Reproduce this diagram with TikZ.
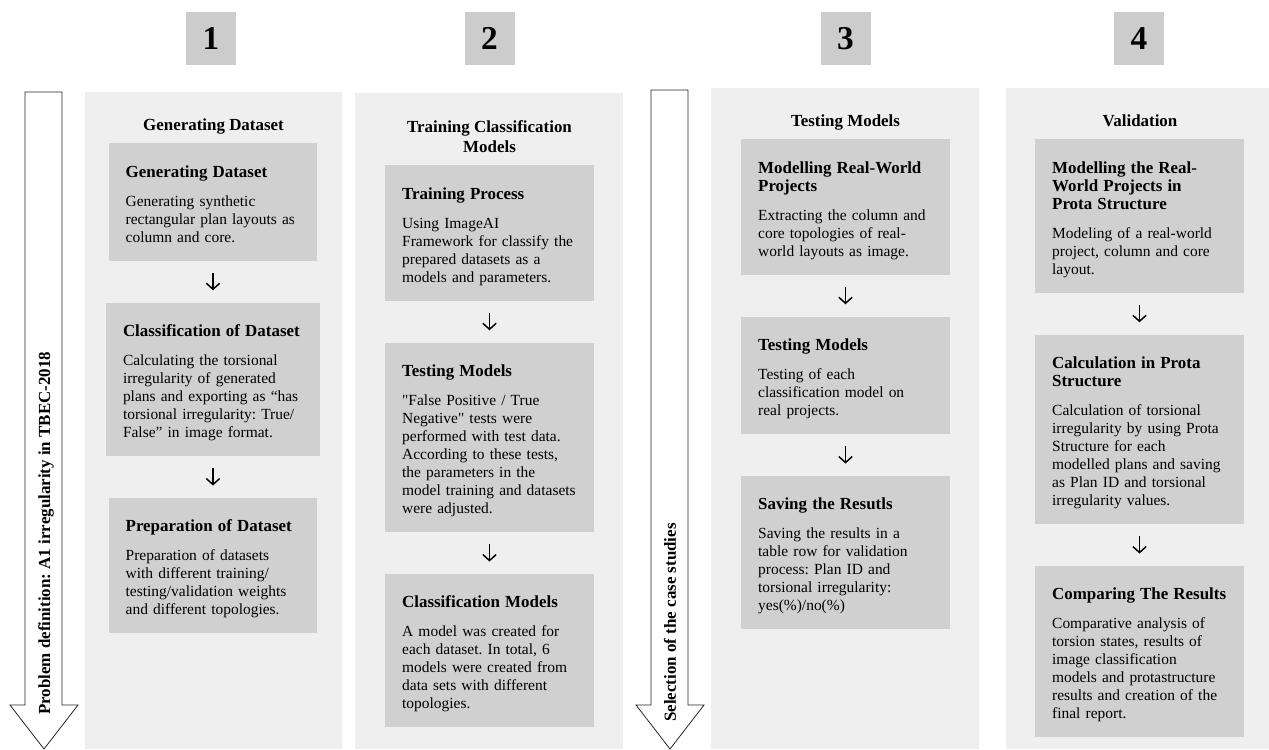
\documentclass[tikz,border=0pt]{standalone}
\usepackage{fontspec}
\setmainfont{Liberation Serif}[Ligatures=TeXOff]
\usepackage{tikz}
\usetikzlibrary{positioning, arrows.meta}
\definecolor{panel}{RGB}{239,239,239}
\definecolor{stepfill}{RGB}{208,208,208}
\definecolor{numfill}{RGB}{204,204,204}
\setlength{\parindent}{0pt}
\frenchspacing
\newcommand{\steptitlefont}{\fontsize{12.7pt}{13.5pt}\selectfont\bfseries}
\newcommand{\stepbody}[2]{\rule{0pt}{17.3pt}{\steptitlefont #1}\par\vspace{8.25pt}#2\rule[-5.9pt]{0pt}{5.9pt}}

\begin{document}
\begin{tikzpicture}[x=0.75pt, y=-0.75pt, node distance=31.1pt,
    stepbox/.style={fill=stepfill, text width=131pt, inner xsep=12.75pt, inner ysep=8pt,
        align=left, font=\fontsize{11.6pt}{13.5pt}\selectfont},
    coltitle/.style={font=\fontsize{12.7pt}{15pt}\selectfont\bfseries, align=center, inner sep=0pt},
    numbox/.style={fill=numfill, minimum width=37.5pt, minimum height=39.75pt, inner sep=0pt,
        font=\fontsize{25pt}{30pt}\selectfont\bfseries},
    flow/.style={-{Straight Barb[length=4.5pt,width=10pt]}, line width=1.1pt,
        shorten <=9pt, shorten >=9pt},
    bigarrow/.style={fill=white, draw=black!85, line width=0.6pt},
    sidelabel/.style={rotate=90, anchor=west, inner sep=0pt,
        font=\fontsize{12.7pt}{15pt}\selectfont\bfseries}]
    \useasboundingbox (0,0) rectangle (1269,749);

    % Paneles de fondo
    \fill[panel] (85,92) rectangle (342,749);
    \fill[panel] (355,93) rectangle (623,749);
    \fill[panel] (711,88) rectangle (979,749);
    \fill[panel] (1006,88) rectangle (1269,749);

    % Numeros de etapa
    \node[numbox] (n1) at (211,38.5) {1};
    \node[numbox] (n2) at (489.5,38.5) {2};
    \node[numbox] (n3) at (845.5,38.5) {3};
    \node[numbox] (n4) at (1139,38.5) {4};

    % Flechas laterales
    \draw[bigarrow] (25,92) -- (62,92) -- (62,705) -- (78,705) -- (44,749) -- (10,705) -- (25,705) -- cycle;
    \node[sidelabel] (prob) at (46,715) {Problem definition: A1 irregularity in TBEC-2018};
    \draw[bigarrow] (651,90) -- (688,90) -- (688,705) -- (704,705) -- (670,749) -- (636,705) -- (651,705) -- cycle;
    \node[sidelabel] (sel) at (670,722) {Selection of the case studies};

    % Columna 1
    \node[coltitle, anchor=base] (h1) at (213.5,130.7) {Generating Dataset};
    \node[stepbox, anchor=north] (gendata) at (213,143) {\stepbody{Generating Dataset}{Generating synthetic\\
        rectangular plan layouts as\\ column and core.}};
    \node[stepbox, text width=135pt, below=of gendata] (classif) {\stepbody{Classification of Dataset}{Calculating the torsional\\
        irregularity of generated\\ plans and exporting as “has\\ torsional irregularity: True/\\ False” in image format.}};
    \node[stepbox, below=of classif] (prep) {\stepbody{Preparation of Dataset}{Preparation of datasets\\
        with different training/\\ testing/validation weights\\ and different topologies.}};
    \draw[flow] (gendata) -- (classif);
    \draw[flow] (classif) -- (prep);

    % Columna 2
    \node[coltitle, anchor=north] (h2) at (489.5,120) {Training Classification\\Models};
    \node[stepbox, anchor=north] (train) at (489.5,165) {\stepbody{Training Process}{Using ImageAI\\
        Framework for classify the\\ prepared datasets as a\\ models and parameters.}};
    \node[stepbox, below=of train] (testa) {\stepbody{Testing Models}{"False Positive / True\\
        Negative" tests were\\ performed with test data.\\ According to these tests,\\
        the parameters in the\\ model training and datasets\\ were adjusted.}};
    \node[stepbox, below=of testa] (models) {\stepbody{Classification Models}{A model was created for\\
        each dataset. In total, 6\\ models were created from\\ data sets with different\\ topologies.}};
    \draw[flow] (train) -- (testa);
    \draw[flow] (testa) -- (models);

    % Columna 3
    \node[coltitle, anchor=base] (h3) at (845.5,126.7) {Testing Models};
    \node[stepbox, anchor=north] (realw) at (845.5,139) {\stepbody{Modelling Real-World\\ Projects}{Extracting the column and\\
        core topologies of real-\\ world layouts as image.}};
    \node[stepbox, below=of realw] (testb) {\stepbody{Testing Models}{Testing of each\\
        classification model on\\ real projects.}};
    \node[stepbox, below=of testb] (saving) {\stepbody{Saving the Resutls}{Saving the results in a\\
        table row for validation\\ process: Plan ID and\\ torsional irregularity:\\ yes(\%)/no(\%)}};
    \draw[flow] (realw) -- (testb);
    \draw[flow] (testb) -- (saving);

    % Columna 4
    \node[coltitle, anchor=base] (h4) at (1140,126.7) {Validation};
    \node[stepbox, anchor=north] (protamod) at (1139.5,139) {\stepbody{Modelling the Real-\\ World Projects in\\ Prota Structure}{Modeling of a real-world\\
        project, column and core\\ layout.}};
    \node[stepbox, below=of protamod] (protacalc) {\stepbody{Calculation in Prota\\ Structure}{Calculation of torsional\\
        irregularity by using Prota\\ Structure for each\\ modelled plans and saving\\
        as Plan ID and torsional\\ irregularity values.}};
    \node[stepbox, below=of protacalc] (compare) {\stepbody{Comparing The Results}{Comparative analysis of\\
        torsion states, results of\\ image classification\\ models and protastructure\\
        results and creation of the\\ final report.}};
    \draw[flow] (protamod) -- (protacalc);
    \draw[flow] (protacalc) -- (compare);
\end{tikzpicture}
\end{document}
